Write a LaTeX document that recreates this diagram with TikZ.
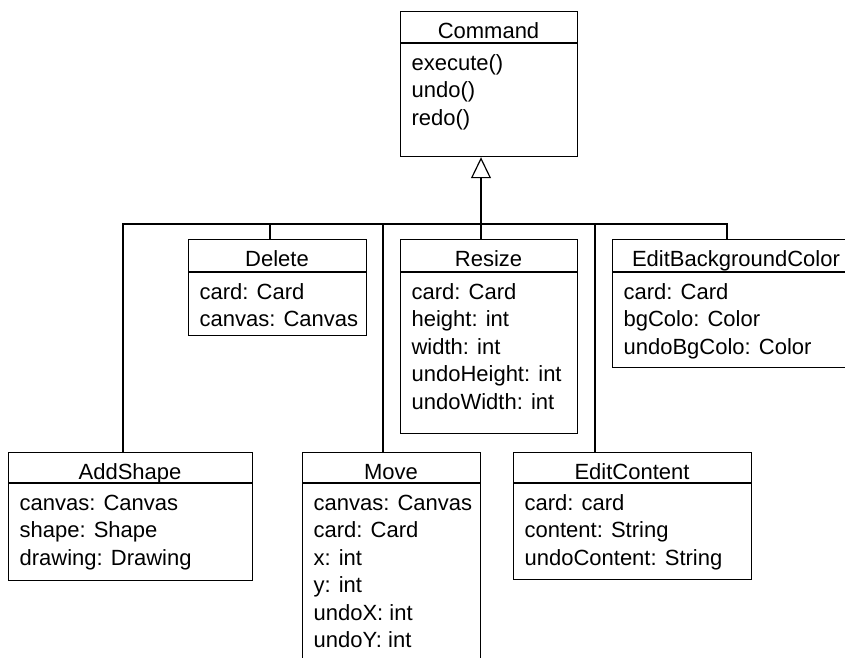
\documentclass[tikz,border=0pt]{standalone}
\usepackage{fontspec}
\setmainfont{Liberation Sans}
\usetikzlibrary{arrows.meta}

% name, left, top, right, bottom, divider y, title, attribute list
\newcommand\umlclass[8]{%
  \node[classbox, minimum width={#4-#2}, minimum height={#5-#3}] (#1) at (#2,#3) {};
  \draw (#2,#6) -- (#4,#6);
  \node[txt, anchor=base] at ({(#2+#4)/2}, #3+27) {#7};
  \foreach \attr [count=\i from 0] in {#8}
    \node[txt, anchor=base west] at (#2+11, #6+27+27.5*\i) {\attr};
}

\begin{document}
\begin{tikzpicture}[x=1pt, y=-1pt, line width=1.2pt,
  classbox/.style={draw, rectangle, inner sep=0pt, anchor=north west},
  txt/.style={font=\fontsize{22}{27.5}\selectfont, inner sep=0pt},
  gen/.style={-{Triangle[open, length=21pt, width=20pt]}}]

\useasboundingbox (0,0) rectangle (845,657);
\clip (0,0) rectangle (845,657);

\umlclass{command}{400}{11}{577}{156}{43}{Command}{execute(), undo(), redo()}
\umlclass{delete}{188}{239}{366}{335}{272}{Delete}{card: Card, canvas: Canvas}
\umlclass{resize}{400}{239}{577}{433}{272}{Resize}{card: Card, height: int, width: int, undoHeight: int, undoWidth: int}
\umlclass{ebc}{612}{239}{860}{367}{272}{EditBackgroundColor}{card: Card, bgColo: Color, undoBgColo: Color}
\umlclass{addshape}{8}{452}{252}{580}{483}{AddShape}{canvas: Canvas, shape: Shape, drawing: Drawing}
\umlclass{move}{302}{452}{480}{670}{483}{Move}{canvas: Canvas, card: Card, x: int, y: int, undoX: int, undoY: int}
\umlclass{editcontent}{513}{452}{751}{579}{483}{EditContent}{card: card, content: String, undoContent: String}

% inheritance tree
\coordinate (bus) at (481,224);
\draw ([xshift=115pt]addshape.north west) |- (bus);
\draw ([xshift=82pt]delete.north west) |- (bus);
\draw ([xshift=81pt]move.north west) |- (bus);
\draw ([xshift=82pt]editcontent.north west) |- (bus);
\draw ([xshift=115pt]ebc.north west) |- (bus);
\draw[gen] ([xshift=81pt]resize.north west) -- ([xshift=81pt]command.south west);

\end{tikzpicture}
\end{document}
